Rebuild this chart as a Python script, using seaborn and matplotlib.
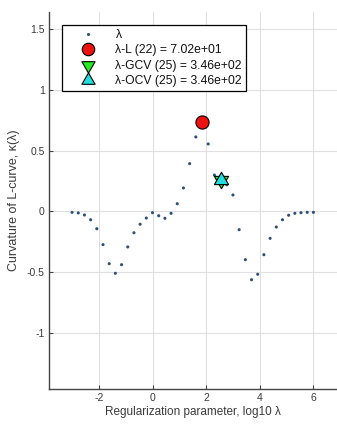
import matplotlib
matplotlib.use("Agg")
import matplotlib.pyplot as plt
import seaborn as sns
import pandas as pd
from matplotlib.lines import Line2D
from matplotlib.path import Path
from matplotlib.markers import MarkerStyle

log_lambda = [-3.000, -2.769, -2.538, -2.308, -2.077, -1.846, -1.615, -1.385, -1.154, -0.923,
              -0.692, -0.462, -0.231, 0.000, 0.231, 0.462, 0.692, 0.923, 1.154, 1.385,
              1.615, 1.846, 2.077, 2.308, 2.538, 2.769, 3.000, 3.231, 3.462, 3.692,
              3.923, 4.154, 4.385, 4.615, 4.846, 5.077, 5.308, 5.538, 5.769, 6.000]
curvature = [-0.007, -0.012, -0.029, -0.068, -0.142, -0.273, -0.430, -0.509, -0.438, -0.292,
             -0.175, -0.105, -0.054, -0.010, -0.035, -0.056, -0.015, 0.064, 0.194, 0.394,
             0.614, 0.740, 0.556, 0.300, 0.259, 0.220, 0.136, -0.150, -0.397, -0.562,
             -0.517, -0.356, -0.221, -0.128, -0.068, -0.031, -0.015, -0.010, -0.007, -0.007]

idx_L = 21    # lambda-L (22)
idx_GCV = 24  # lambda-GCV (25)
idx_OCV = 24  # lambda-OCV (25)

labels = ["λ", "λ-L (22) = 7.02e+01", "λ-GCV (25) = 3.46e+02", "λ-OCV (25) = 3.46e+02"]
x_ticks = [-2, 0, 2, 4, 6]
y_ticks = [-1, -0.5, 0, 0.5, 1, 1.5]
y_ticklabels = ["-1", "-0.5", "0", "0.5", "1", "1.5"]

sns.set_theme(style="whitegrid")
plt.rcParams['font.family'] = ['Liberation Sans', 'DejaVu Sans']

# centroid-centred triangles (so that the two overlap as a hexagram)
tri_up = MarkerStyle(Path([(0, 1), (-0.866, -0.5), (0.866, -0.5), (0, 1)],
                          [Path.MOVETO, Path.LINETO, Path.LINETO, Path.CLOSEPOLY]))
tri_down = MarkerStyle(Path([(0, -1), (-0.866, 0.5), (0.866, 0.5), (0, -1)],
                            [Path.MOVETO, Path.LINETO, Path.LINETO, Path.CLOSEPOLY]))

df = pd.DataFrame({"x": log_lambda, "y": curvature})

fig = plt.figure(figsize=(3.37, 4.28), dpi=100)
ax = fig.add_axes([49/337, 1 - 389/428, 1 - 49/337, (389 - 12)/428])
ax.set_facecolor("white")

dot_color = "#2e4f78"
red = "#ee1111"
green = "#22ee22"
cyan = "#22dddd"
text_color = "#3a3a3a"
sns.scatterplot(data=df, x="x", y="y", ax=ax, s=5, color=dot_color, edgecolor="none", zorder=3)
sns.scatterplot(x=[log_lambda[idx_L]], y=[curvature[idx_L]], ax=ax, s=90, color=red,
                edgecolor="black", linewidth=0.8, marker="o", zorder=4)
sns.scatterplot(x=[log_lambda[idx_GCV]], y=[curvature[idx_GCV]], ax=ax, s=140, color=green,
                edgecolor="black", linewidth=0.8, marker=tri_down, zorder=5)
sns.scatterplot(x=[log_lambda[idx_OCV]], y=[curvature[idx_OCV]], ax=ax, s=140, color=cyan,
                edgecolor="black", linewidth=0.8, marker=tri_up, zorder=6)

ax.set_xlim(-3.86, 6.88)
ax.set_ylim(-1.462, 1.643)
ax.set_xticks(x_ticks)
ax.set_xticklabels([str(t) for t in x_ticks])
ax.set_yticks(y_ticks)
ax.set_yticklabels(y_ticklabels)
ax.grid(True, color="#e0e0e0", linewidth=0.8)
for side in ["top", "right"]:
    ax.spines[side].set_visible(False)
for side in ["left", "bottom"]:
    ax.spines[side].set_visible(True)
    ax.spines[side].set_color("#444444")
    ax.spines[side].set_linewidth(1.0)
ax.tick_params(axis="both", direction="in", length=3, width=0.8, color="#444444",
               labelsize=7.5, labelcolor=text_color, pad=3,
               left=True, bottom=True)
ax.set_xlabel("Regularization parameter, log10 λ", fontsize=8.5, color=text_color, labelpad=2)
ax.set_ylabel("Curvature of L-curve, κ(λ)", fontsize=9.0, color=text_color, labelpad=5)

handles = [
    Line2D([], [], linestyle="none", marker="o", markersize=2.2, color=dot_color, markeredgecolor="none"),
    Line2D([], [], linestyle="none", marker="o", markersize=9.0, markerfacecolor=red, markeredgecolor="black", markeredgewidth=0.8),
    Line2D([], [], linestyle="none", marker=tri_down, markersize=11, markerfacecolor=green, markeredgecolor="black", markeredgewidth=0.8),
    Line2D([], [], linestyle="none", marker=tri_up, markersize=11, markerfacecolor=cyan, markeredgecolor="black", markeredgewidth=0.8),
]
leg = ax.legend(handles, labels, loc="upper left", bbox_to_anchor=(0.044, 0.966),
                borderaxespad=0, fontsize=8.7, frameon=True, fancybox=False, framealpha=1,
                edgecolor="black", handlelength=3.7, borderpad=0.35, handletextpad=0.4,
                labelspacing=0.28)
leg.get_frame().set_linewidth(0.9)
for t in leg.get_texts():
    t.set_color("#111111")

fig.savefig("out.png", dpi=100, facecolor="white")
